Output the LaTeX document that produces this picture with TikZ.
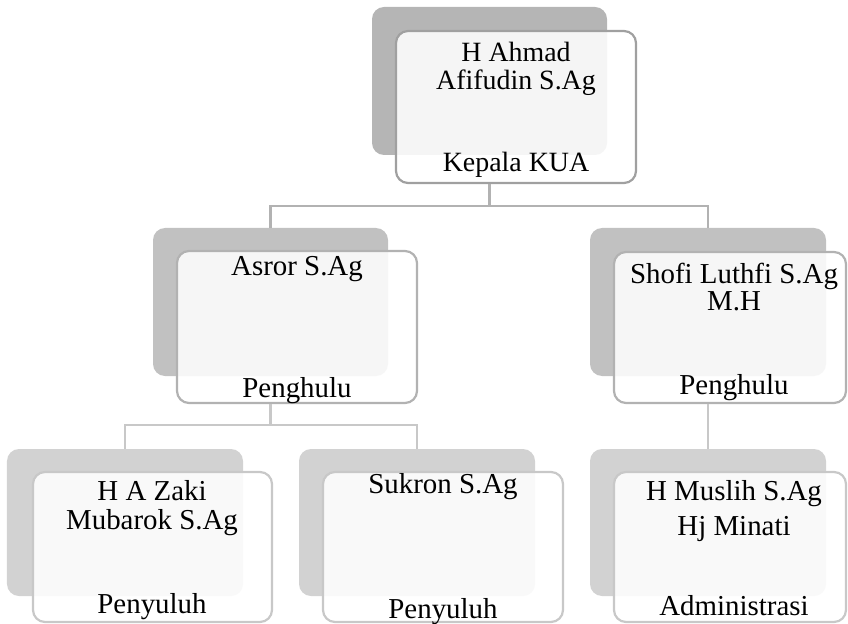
\documentclass[tikz,border=0pt]{standalone}
\usepackage{fontspec}
\setmainfont{Liberation Serif}
\definecolor{backA}{RGB}{181,181,181}
\definecolor{backB}{RGB}{193,193,193}
\definecolor{backC}{RGB}{210,210,210}
\definecolor{lineA}{RGB}{160,160,160}
\definecolor{lineB}{RGB}{178,178,178}
\definecolor{lineC}{RGB}{200,200,200}
\begin{document}
\begin{tikzpicture}[x=1bp,y=-1bp,
  backbox/.style={draw=none,fill=#1,rounded corners=12bp,inner sep=0pt},
  frontbox/.style={draw=#1,line width=2.2bp,fill=white,fill opacity=0.87,rounded corners=12bp,inner sep=0pt},
  conn/.style={draw=#1,line width=2.2bp},
  lbl/.style={anchor=base,inner sep=0pt,font=\fontsize{29}{29}\selectfont,align=center},
  toplbl/.style={lbl,font=\fontsize{28}{28}\selectfont}]
\useasboundingbox (0,0) rectangle (848,624);
% back boxes
\node[backbox=backA,minimum width=235bp,minimum height=148bp] (topb) at (489.5,81) {};
\node[backbox=backB,minimum width=235bp,minimum height=148bp] (asrorb) at (270.5,302) {};
\node[backbox=backB,minimum width=236bp,minimum height=148bp] (shofib) at (708,302) {};
\node[backbox=backC,minimum width=236bp,minimum height=147bp] (zakib) at (125,522.5) {};
\node[backbox=backC,minimum width=236bp,minimum height=147bp] (sukronb) at (417,522.5) {};
\node[backbox=backC,minimum width=236bp,minimum height=147bp] (muslihb) at (708,522.5) {};
% front boxes
\node[frontbox=lineA,minimum width=240bp,minimum height=152bp] (topf) at (516,107) {};
\node[frontbox=lineB,minimum width=240bp,minimum height=152bp] (asrorf) at (297,327) {};
\node[frontbox=lineB,minimum width=232bp,minimum height=151bp] (shofif) at (730,327.5) {};
\node[frontbox=lineC,minimum width=239bp,minimum height=150bp] (zakif) at (152.5,547) {};
\node[frontbox=lineC,minimum width=240bp,minimum height=150bp] (sukronf) at (443,547) {};
\node[frontbox=lineC,minimum width=232bp,minimum height=150bp] (muslihf) at (730,547) {};
% connectors
\coordinate (j1) at (489.5,206);
\draw[conn=lineB] (topb.south |- topf.south) -- (j1) -| (asrorb.north);
\draw[conn=lineB] (j1) -| (shofib.north);
\coordinate (j2) at (270.5,425);
\draw[conn=lineC] (asrorb.south |- asrorf.south) -- (j2) -| (zakib.north);
\draw[conn=lineC] (j2) -| (sukronb.north);
\draw[conn=lineC] (shofib.south |- shofif.south) -- (muslihb.north);
% texts
\node[toplbl] (t1) at (516,62) {H Ahmad};
\node[toplbl] (t2) at (516,90) {Afifudin S.Ag};
\node[toplbl] (t3) at (516,172) {Kepala KUA};
\node[lbl] (a1) at (297,275) {Asror S.Ag};
\node[lbl] (a2) at (297,397) {Penghulu};
\node[lbl] (s1) at (734,283) {Shofi Luthfi S.Ag};
\node[lbl] (s2) at (734,310) {M.H};
\node[lbl] (s3) at (734,394) {Penghulu};
\node[lbl] (z1) at (152,500) {H A Zaki};
\node[lbl] (z2) at (152,529) {Mubarok S.Ag};
\node[lbl] (z3) at (152,613) {Penyuluh};
\node[lbl] (k1) at (443,493) {Sukron S.Ag};
\node[lbl] (k2) at (443,618) {Penyuluh};
\node[lbl] (m1) at (734,500) {H Muslih S.Ag};
\node[lbl] (m2) at (734,535) {Hj Minati};
\node[lbl] (m3) at (734,615) {Administrasi};
\end{tikzpicture}
\end{document}
